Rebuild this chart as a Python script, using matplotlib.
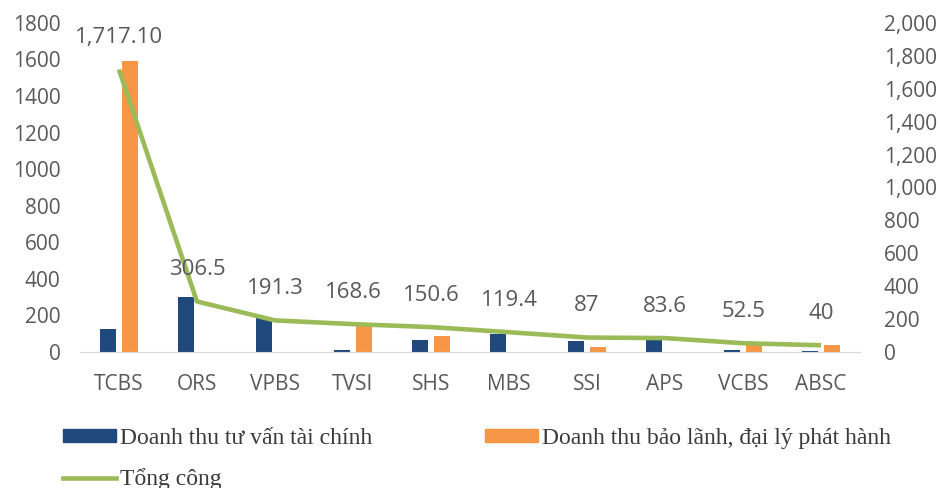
import numpy as np
import matplotlib.pyplot as plt
from matplotlib.patches import Patch
from matplotlib.lines import Line2D
from matplotlib.ticker import FuncFormatter

# data
companies = ["TCBS", "ORS", "VPBS", "TVSI", "SHS", "MBS", "SSI", "APS", "VCBS", "ABSC"]
tu_van = [126, 302, 185, 8, 66, 100, 58, 75, 8, 5]
bao_lanh = [1591.1, 0, 0, 160.6, 84.6, 0, 29, 0, 44.5, 35]
tong_cong = [1717.10, 306.5, 191.3, 168.6, 150.6, 119.4, 87, 83.6, 52.5, 40]
total_labels = ["1,717.10", "306.5", "191.3", "168.6", "150.6", "119.4", "87", "83.6", "52.5", "40"]

blue = "#1F497D"
orange = "#F79646"
green = "#9BBB59"
gray = "#595959"

fig = plt.figure(figsize=(9.4, 4.88), dpi=100)
ax = fig.add_axes([0.085, 0.279, 0.83, 0.674])
x = np.arange(len(companies))
w = 0.21

ax.bar(x - 0.142, tu_van, width=w, color=blue)
ax.bar(x + 0.142, bao_lanh, width=w, color=orange)
ax.set_xlim(-0.5, len(companies) - 0.5)
ax.set_ylim(0, 1800)
ax.set_yticks(range(0, 1801, 200))
ax.set_xticks(x)
ax.set_xticklabels(companies)

ax2 = ax.twinx()
ax2.plot(x, tong_cong, color=green, lw=3.3, solid_capstyle="butt")
ax2.set_ylim(0, 2000)
ax2.set_yticks(range(0, 2001, 200))
ax2.yaxis.set_major_formatter(FuncFormatter(lambda v, p: f"{int(v):,}"))

# data labels above the total line
for i, (v, lab) in enumerate(zip(tong_cong, total_labels)):
    ax2.annotate(lab, (i, v), xytext=(0, 23), textcoords="offset points",
                 ha="center", va="center", fontsize=16, color=gray, family="Open Sans")

for a in (ax, ax2):
    for s in a.spines.values():
        s.set_visible(False)
    a.tick_params(length=0, labelsize=15, labelcolor=gray)
    for t in a.get_xticklabels() + a.get_yticklabels():
        t.set_family("Open Sans")
ax.spines["bottom"].set_visible(True)
ax.spines["bottom"].set_color("#D9D9D9")
ax.tick_params(axis="y", pad=14)
ax.tick_params(axis="x", pad=16)
ax2.tick_params(axis="y", pad=17)

handles = [Patch(color=blue), Line2D([], [], color=green, lw=3.3), Patch(color=orange)]
labels = ["Doanh thu tư vấn tài chính", "Tổng công", "Doanh thu bảo lãnh, đại lý phát hành"]
fig.legend(handles, labels, ncol=2, loc="upper left", bbox_to_anchor=(63 / 940, 0.123),
           frameon=False, prop={"family": "Liberation Serif", "size": 17},
           handlelength=2.25, handleheight=0.5, handletextpad=0.18, columnspacing=4.75,
           labelspacing=0.82, borderpad=0, borderaxespad=0, labelcolor="#3a3a3a")

fig.savefig("out.png", dpi=100)
